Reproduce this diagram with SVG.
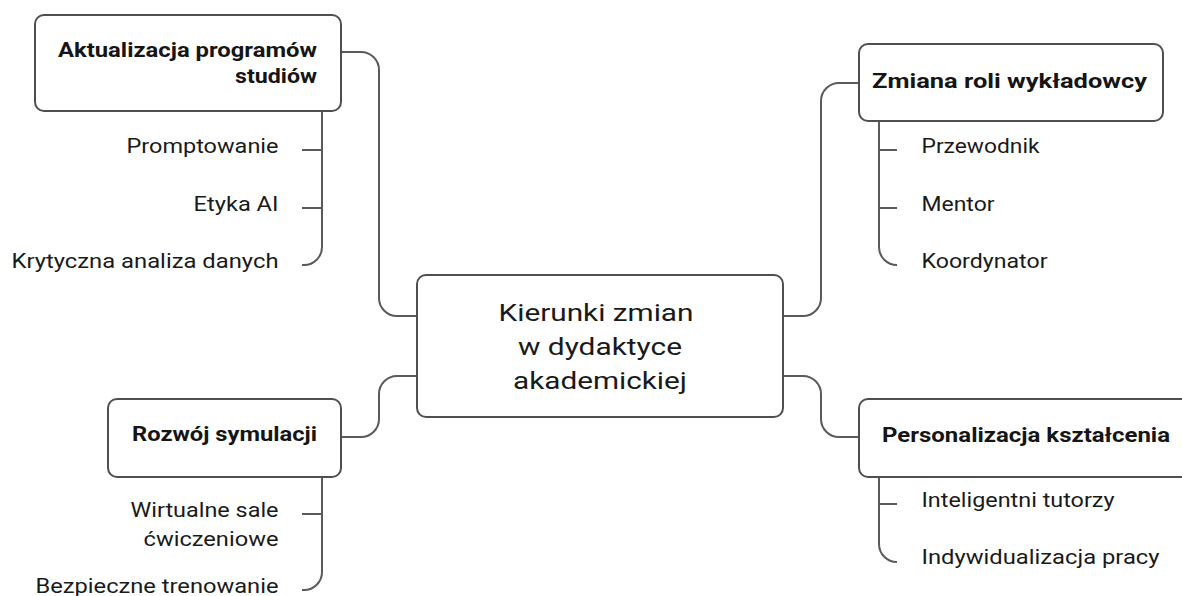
<svg xmlns="http://www.w3.org/2000/svg" width="1182" height="596" viewBox="0 0 1182 596">
  <style>
    .box { fill: #ffffff; stroke: #4f4f4f; stroke-width: 2; }
    .link { fill: none; stroke: #5a5a5a; stroke-width: 2; }
    .title { font-family: Roboto, "Liberation Sans", sans-serif; font-weight: 700; font-size: 21px; fill: #151515; }
    .item { font-family: Roboto, "Liberation Sans", sans-serif; font-size: 20.5px; fill: #1a1a1a; }
    .root { font-family: Roboto, "Liberation Sans", sans-serif; font-size: 24.5px; fill: #1a1a1a; }
    .end { text-anchor: end; }
  </style>
  <rect width="1182" height="596" fill="#ffffff"/>

  <!-- connectors between the central node and the four branches, plus branch sub-lines -->
  <g id="connectors" class="link">
    <path d="M341,52 H361 A18,18 0 0 1 379,70 V298 A18,18 0 0 0 397,316 H417"/>
    <path d="M417,376 H397 A18,18 0 0 0 379,394 V419 A18,18 0 0 1 361,437 H341"/>
    <path d="M783,316 H803 A18,18 0 0 0 821,298 V101 A18,18 0 0 1 839,83 H859"/>
    <path d="M783,376 H803 A18,18 0 0 1 821,394 V419 A18,18 0 0 0 839,437 H859"/>

    <path d="M322,111 V247 A18,18 0 0 1 304,265 H302"/>
    <path d="M302,150 H322 M302,208 H322"/>

    <path d="M879,121 V247 A18,18 0 0 0 897,265"/>
    <path d="M879,150 H897 M879,208 H897"/>

    <path d="M322,477 V572 A18,18 0 0 1 304,590 H302"/>
    <path d="M302,514 H322"/>

    <path d="M879,477 V544 A18,18 0 0 0 897,562"/>
    <path d="M879,504 H897"/>
  </g>

  <g id="node-root">
    <rect class="box" x="417" y="275" width="366" height="142" rx="9"/>
    <text class="root" x="596" y="321" text-anchor="middle" textLength="195" lengthAdjust="spacingAndGlyphs">Kierunki zmian</text>
    <text class="root" x="600" y="355" text-anchor="middle" textLength="164" lengthAdjust="spacingAndGlyphs">w dydaktyce</text>
    <text class="root" x="600" y="389" text-anchor="middle" textLength="174" lengthAdjust="spacingAndGlyphs">akademickiej</text>
  </g>

  <g id="node-programy">
    <rect class="box" x="35" y="15" width="306" height="96" rx="9"/>
    <text class="title end" x="317" y="57" textLength="259" lengthAdjust="spacingAndGlyphs">Aktualizacja programów</text>
    <text class="title end" x="317" y="83" textLength="82" lengthAdjust="spacingAndGlyphs">studiów</text>
  </g>
  <g id="node-promptowanie">
    <text class="item end" x="278.5" y="153" textLength="152" lengthAdjust="spacingAndGlyphs">Promptowanie</text>
  </g>
  <g id="node-etyka">
    <text class="item end" x="278.5" y="211" textLength="85" lengthAdjust="spacingAndGlyphs">Etyka AI</text>
  </g>
  <g id="node-krytyczna">
    <text class="item end" x="278.5" y="268" textLength="267" lengthAdjust="spacingAndGlyphs">Krytyczna analiza danych</text>
  </g>

  <g id="node-rola">
    <rect class="box" x="859" y="44" width="304" height="77" rx="9"/>
    <text class="title" x="872" y="88" textLength="275" lengthAdjust="spacingAndGlyphs">Zmiana roli wykładowcy</text>
  </g>
  <g id="node-przewodnik">
    <text class="item" x="921.5" y="153" textLength="118" lengthAdjust="spacingAndGlyphs">Przewodnik</text>
  </g>
  <g id="node-mentor">
    <text class="item" x="921.5" y="211" textLength="73" lengthAdjust="spacingAndGlyphs">Mentor</text>
  </g>
  <g id="node-koordynator">
    <text class="item" x="921.5" y="268" textLength="126" lengthAdjust="spacingAndGlyphs">Koordynator</text>
  </g>

  <g id="node-symulacje">
    <rect class="box" x="108" y="399" width="233" height="78" rx="9"/>
    <text class="title end" x="317" y="441" textLength="185" lengthAdjust="spacingAndGlyphs">Rozwój symulacji</text>
  </g>
  <g id="node-sale">
    <text class="item end" x="278.5" y="517" textLength="148" lengthAdjust="spacingAndGlyphs">Wirtualne sale</text>
    <text class="item end" x="278.5" y="546" textLength="135" lengthAdjust="spacingAndGlyphs">ćwiczeniowe</text>
  </g>
  <g id="node-trenowanie">
    <text class="item end" x="278.5" y="593" textLength="243" lengthAdjust="spacingAndGlyphs">Bezpieczne trenowanie</text>
  </g>

  <g id="node-personalizacja">
    <rect class="box" x="859" y="399" width="340" height="78" rx="9"/>
    <text class="title" x="882" y="442" textLength="288" lengthAdjust="spacingAndGlyphs">Personalizacja kształcenia</text>
  </g>
  <g id="node-tutorzy">
    <text class="item" x="921.5" y="507" textLength="193" lengthAdjust="spacingAndGlyphs">Inteligentni tutorzy</text>
  </g>
  <g id="node-indywidualizacja">
    <text class="item" x="921.5" y="564" textLength="238" lengthAdjust="spacingAndGlyphs">Indywidualizacja pracy</text>
  </g>
</svg>
